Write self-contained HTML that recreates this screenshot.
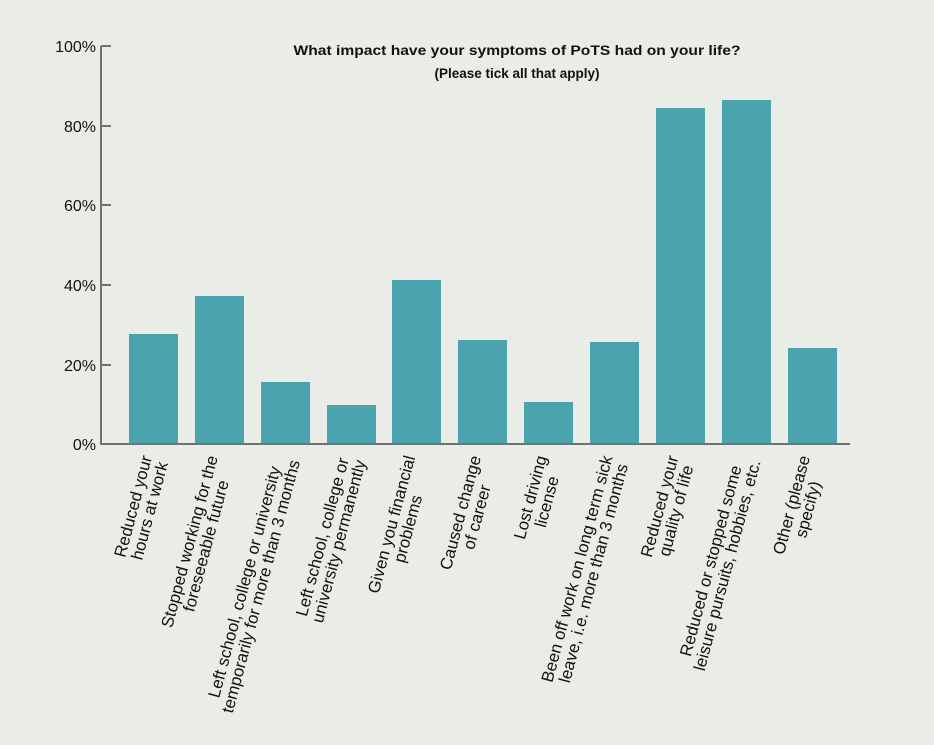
<!DOCTYPE html>
<html><head><meta charset="utf-8"><style>
html,body{margin:0;padding:0;background:#eaece7;}
svg{display:block;font-family:"Liberation Sans",sans-serif;}
</style></head><body>
<svg id="s" width="934" height="745" viewBox="0 0 934 745" xmlns="http://www.w3.org/2000/svg">
<rect width="934" height="745" fill="#eaece7"/>
<text x="517" y="55" text-anchor="middle" font-weight="bold" font-size="13.5" fill="#111" textLength="447" lengthAdjust="spacingAndGlyphs">What impact have your symptoms of PoTS had on your life?</text>
<text x="517" y="78" text-anchor="middle" font-weight="bold" font-size="13.5" fill="#111">(Please tick all that apply)</text>
<g fill="#4aa3ad">
<rect x="129" y="334" width="49" height="110"/>
<rect x="195" y="296" width="49" height="148"/>
<rect x="261" y="382" width="49" height="62"/>
<rect x="327" y="405" width="49" height="39"/>
<rect x="392" y="280" width="49" height="164"/>
<rect x="458" y="340" width="49" height="104"/>
<rect x="524" y="402" width="49" height="42"/>
<rect x="590" y="342" width="49" height="102"/>
<rect x="656" y="108" width="49" height="336"/>
<rect x="722" y="100" width="49" height="344"/>
<rect x="788" y="348" width="49" height="96"/>
</g>
<g stroke="#6f7472" stroke-width="2" fill="none">
<line x1="101" y1="46" x2="101" y2="445"/>
<line x1="100" y1="444" x2="850" y2="444"/>
<line x1="101" y1="46" x2="111" y2="46"/>
<line x1="101" y1="126" x2="111" y2="126"/>
<line x1="101" y1="205" x2="111" y2="205"/>
<line x1="101" y1="285" x2="111" y2="285"/>
<line x1="101" y1="365" x2="111" y2="365"/>
</g>
<g font-size="16" fill="#111" text-anchor="end">
<text x="96" y="52">100%</text>
<text x="96" y="132">80%</text>
<text x="96" y="211">60%</text>
<text x="96" y="291">40%</text>
<text x="96" y="371">20%</text>
<text x="96" y="450">0%</text>
</g>
<g id="labels" font-size="16.8" fill="#111"></g>
</svg>
<script>
var L=[["Reduced your","hours at work"],["Stopped working for the","foreseeable future"],["Left school, college or university","temporarily for more than 3 months"],["Left school, college or","university permanently"],["Given you financial","problems"],["Caused change","of career"],["Lost driving","license"],["Been off work on long term sick","leave, i.e. more than 3 months"],["Reduced your","quality of life"],["Reduced or stopped some","leisure pursuits, hobbies, etc."],["Other (please","specify)"]];
var g=document.getElementById('labels'),ns="http://www.w3.org/2000/svg";
L.forEach(function(lines,i){
 var cx=153.5+i*65.8+1;
 var grp=document.createElementNS(ns,'g');
 grp.setAttribute('transform','translate('+cx+',458) rotate(-75)');
 g.appendChild(grp);
 var ts=[];var w=0;
 lines.forEach(function(t,j){var e=document.createElementNS(ns,'text');e.textContent=t;e.setAttribute('text-anchor','middle');grp.appendChild(e);ts.push(e);w=Math.max(w,e.getComputedTextLength());});
 ts.forEach(function(e,j){e.setAttribute('x',-w/2);e.setAttribute('y',(j-(lines.length-1)/2)*17+6);});
});
</script>
</body></html>
